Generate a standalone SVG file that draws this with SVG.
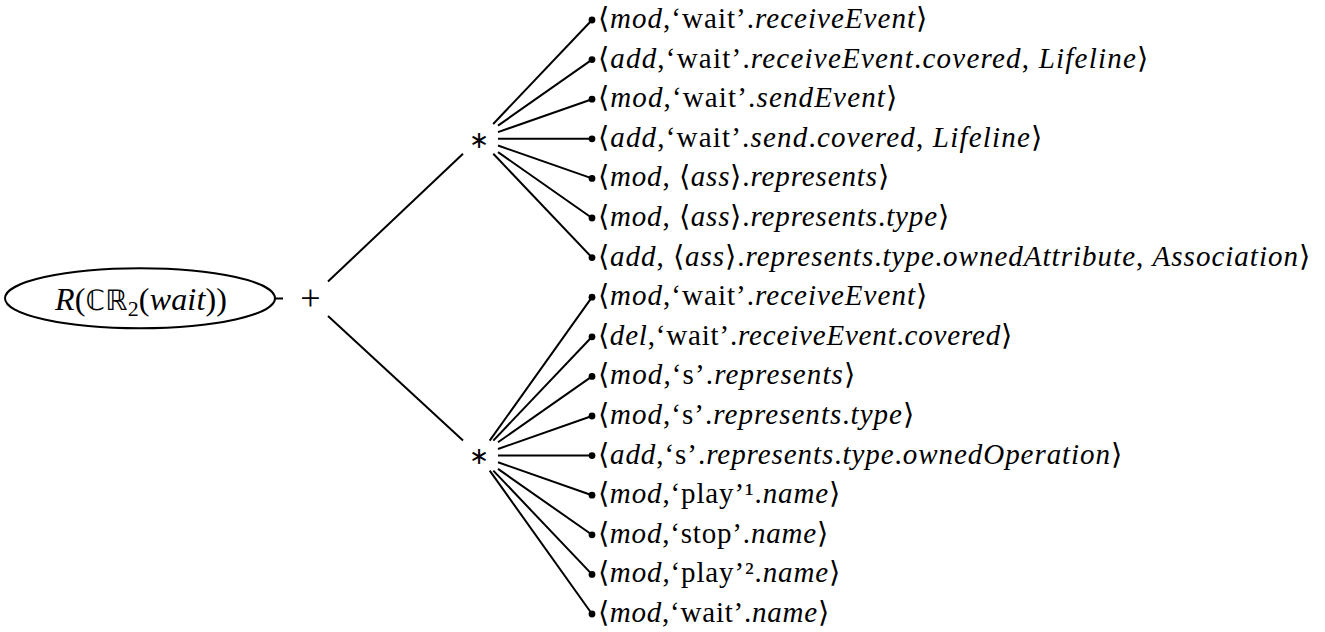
<svg xmlns="http://www.w3.org/2000/svg" width="1325" height="632" viewBox="0 0 1325 632">
  <style>
    .edge { stroke: #000; stroke-width: 2; fill: none; }
    .t { font-family: "Liberation Serif", serif; font-size: 29px; fill: #000; }
    .i { font-style: italic; }
    .b { font-family: "DejaVu Sans", "Noto Sans", sans-serif; font-weight: 200; }
    .big { font-size: 32px; }
    .bb { font-family: "DejaVu Sans", sans-serif; font-size: 28px; }
    .sub { font-size: 22px; }
    .op { font-family: "Liberation Serif", serif; font-size: 36px; fill: #000; }
    .sym { font-family: "DejaVu Sans", sans-serif; font-size: 24px; fill: #000; }
  </style>
  <defs>
    <marker id="dot" viewBox="0 0 4 4" refX="2" refY="2" markerWidth="4" markerHeight="4" markerUnits="strokeWidth">
      <circle cx="2" cy="2" r="1.7" fill="#000"/>
    </marker>
  </defs>

  <rect width="1325" height="632" fill="#fff"/>

  <!-- tree edges -->
  <g id="connectors" class="edge">
    <line x1="275" y1="298.5" x2="283" y2="298.5"/>
    <line x1="328" y1="281.5" x2="463" y2="153.8"/>
    <line x1="328" y1="316" x2="463" y2="440.6"/>
    <!-- first star -->
    <line x1="493.2" y1="124" x2="592" y2="20" marker-end="url(#dot)"/>
    <line x1="498" y1="125.6" x2="592" y2="59.6" marker-end="url(#dot)"/>
    <line x1="498" y1="132.1" x2="592" y2="99.2" marker-end="url(#dot)"/>
    <line x1="498" y1="138.8" x2="592" y2="138.8" marker-end="url(#dot)"/>
    <line x1="498" y1="145.5" x2="592" y2="178.4" marker-end="url(#dot)"/>
    <line x1="498" y1="152.1" x2="592" y2="218" marker-end="url(#dot)"/>
    <line x1="493.3" y1="153.8" x2="592" y2="257.6" marker-end="url(#dot)"/>
    <!-- second star -->
    <line x1="489.7" y1="440.6" x2="592" y2="297.2" marker-end="url(#dot)"/>
    <line x1="493.3" y1="440.6" x2="592" y2="336.8" marker-end="url(#dot)"/>
    <line x1="498" y1="442.3" x2="592" y2="376.4" marker-end="url(#dot)"/>
    <line x1="498" y1="449" x2="592" y2="416" marker-end="url(#dot)"/>
    <line x1="498" y1="455.6" x2="592" y2="455.6" marker-end="url(#dot)"/>
    <line x1="498" y1="462.3" x2="592" y2="495.2" marker-end="url(#dot)"/>
    <line x1="498" y1="468.9" x2="592" y2="534.8" marker-end="url(#dot)"/>
    <line x1="493.3" y1="470.6" x2="592" y2="574.4" marker-end="url(#dot)"/>
    <line x1="489.7" y1="470.6" x2="592" y2="614" marker-end="url(#dot)"/>
  </g>

  <g id="root">
    <ellipse cx="140" cy="298.3" rx="135" ry="30" class="edge"/>
    <text class="t big" x="141" y="310" text-anchor="middle" textLength="172" lengthAdjust="spacing"><tspan class="i">R</tspan>(<tspan class="bb">ℂℝ</tspan><tspan class="sub" dy="6">2</tspan><tspan dy="-6">(</tspan><tspan class="i">wait</tspan>))</text>
  </g>

  <g id="plus">
    <text class="op" x="310.5" y="310" text-anchor="middle">+</text>
  </g>

  <g id="star-1">
    <text class="sym" x="479" y="147.5" text-anchor="middle">∗</text>
  </g>
  <g id="star-2">
    <text class="sym" x="479" y="464.3" text-anchor="middle">∗</text>
  </g>

  <!-- leaves -->
  <g id="leaf-1"><text class="t" x="598" y="28" textLength="329" lengthAdjust="spacing"><tspan class="b">⟨</tspan><tspan class="i">mod</tspan>,‘wait’.<tspan class="i">receiveEvent</tspan><tspan class="b">⟩</tspan></text></g>
  <g id="leaf-2"><text class="t" x="598" y="67.6" textLength="550" lengthAdjust="spacing"><tspan class="b">⟨</tspan><tspan class="i">add</tspan>,‘wait’.<tspan class="i">receiveEvent</tspan>.<tspan class="i">covered</tspan>, <tspan class="i">Lifeline</tspan><tspan class="b">⟩</tspan></text></g>
  <g id="leaf-3"><text class="t" x="598" y="107.2" textLength="299" lengthAdjust="spacing"><tspan class="b">⟨</tspan><tspan class="i">mod</tspan>,‘wait’.<tspan class="i">sendEvent</tspan><tspan class="b">⟩</tspan></text></g>
  <g id="leaf-4"><text class="t" x="598" y="146.8" textLength="444" lengthAdjust="spacing"><tspan class="b">⟨</tspan><tspan class="i">add</tspan>,‘wait’.<tspan class="i">send</tspan>.<tspan class="i">covered</tspan>, <tspan class="i">Lifeline</tspan><tspan class="b">⟩</tspan></text></g>
  <g id="leaf-5"><text class="t" x="598" y="186.4" textLength="291" lengthAdjust="spacing"><tspan class="b">⟨</tspan><tspan class="i">mod</tspan>, <tspan class="b">⟨</tspan><tspan class="i">ass</tspan><tspan class="b">⟩</tspan>.<tspan class="i">represents</tspan><tspan class="b">⟩</tspan></text></g>
  <g id="leaf-6"><text class="t" x="598" y="226" textLength="351" lengthAdjust="spacing"><tspan class="b">⟨</tspan><tspan class="i">mod</tspan>, <tspan class="b">⟨</tspan><tspan class="i">ass</tspan><tspan class="b">⟩</tspan>.<tspan class="i">represents</tspan>.<tspan class="i">type</tspan><tspan class="b">⟩</tspan></text></g>
  <g id="leaf-7"><text class="t" x="598" y="265.6" textLength="712" lengthAdjust="spacing"><tspan class="b">⟨</tspan><tspan class="i">add</tspan>, <tspan class="b">⟨</tspan><tspan class="i">ass</tspan><tspan class="b">⟩</tspan>.<tspan class="i">represents</tspan>.<tspan class="i">type</tspan>.<tspan class="i">ownedAttribute</tspan>, <tspan class="i">Association</tspan><tspan class="b">⟩</tspan></text></g>

  <g id="leaf-8"><text class="t" x="598" y="305.2" textLength="329" lengthAdjust="spacing"><tspan class="b">⟨</tspan><tspan class="i">mod</tspan>,‘wait’.<tspan class="i">receiveEvent</tspan><tspan class="b">⟩</tspan></text></g>
  <g id="leaf-9"><text class="t" x="598" y="344.8" textLength="414" lengthAdjust="spacing"><tspan class="b">⟨</tspan><tspan class="i">del</tspan>,‘wait’.<tspan class="i">receiveEvent</tspan>.<tspan class="i">covered</tspan><tspan class="b">⟩</tspan></text></g>
  <g id="leaf-10"><text class="t" x="598" y="384.4" textLength="257" lengthAdjust="spacing"><tspan class="b">⟨</tspan><tspan class="i">mod</tspan>,‘s’.<tspan class="i">represents</tspan><tspan class="b">⟩</tspan></text></g>
  <g id="leaf-11"><text class="t" x="598" y="424" textLength="316" lengthAdjust="spacing"><tspan class="b">⟨</tspan><tspan class="i">mod</tspan>,‘s’.<tspan class="i">represents</tspan>.<tspan class="i">type</tspan><tspan class="b">⟩</tspan></text></g>
  <g id="leaf-12"><text class="t" x="598" y="463.6" textLength="524" lengthAdjust="spacing"><tspan class="b">⟨</tspan><tspan class="i">add</tspan>,‘s’.<tspan class="i">represents</tspan>.<tspan class="i">type</tspan>.<tspan class="i">ownedOperation</tspan><tspan class="b">⟩</tspan></text></g>
  <g id="leaf-13"><text class="t" x="598" y="503.2" textLength="242" lengthAdjust="spacing"><tspan class="b">⟨</tspan><tspan class="i">mod</tspan>,‘play’¹.<tspan class="i">name</tspan><tspan class="b">⟩</tspan></text></g>
  <g id="leaf-14"><text class="t" x="598" y="542.8" textLength="230" lengthAdjust="spacing"><tspan class="b">⟨</tspan><tspan class="i">mod</tspan>,‘stop’.<tspan class="i">name</tspan><tspan class="b">⟩</tspan></text></g>
  <g id="leaf-15"><text class="t" x="598" y="582.4" textLength="242" lengthAdjust="spacing"><tspan class="b">⟨</tspan><tspan class="i">mod</tspan>,‘play’².<tspan class="i">name</tspan><tspan class="b">⟩</tspan></text></g>
  <g id="leaf-16"><text class="t" x="598" y="622" textLength="231" lengthAdjust="spacing"><tspan class="b">⟨</tspan><tspan class="i">mod</tspan>,‘wait’.<tspan class="i">name</tspan><tspan class="b">⟩</tspan></text></g>
</svg>
